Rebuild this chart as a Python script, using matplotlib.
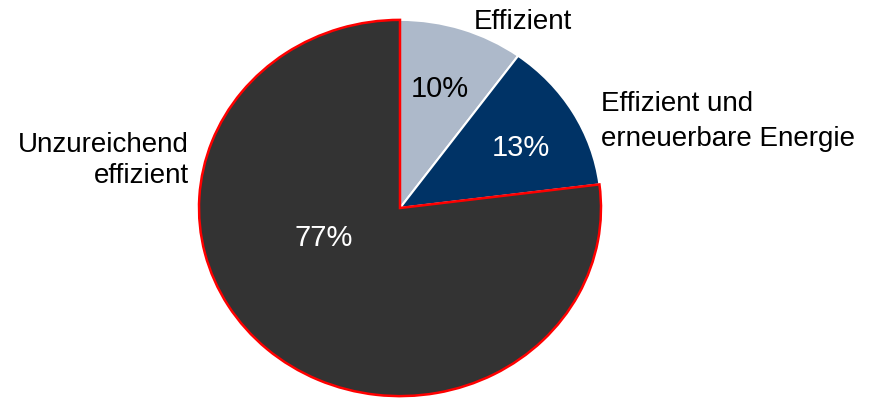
import matplotlib.pyplot as plt

plt.rcParams['font.family'] = ['Liberation Sans', 'DejaVu Sans']

# data, clockwise from 12 o'clock
labels = ['Effizient', 'Effizient und\nerneuerbare Energie', 'Unzureichend\neffizient']
shares = [10, 13, 77]
colors = ['#adb9ca', '#003366', '#333333']
pct_colors = ['black', 'white', 'white']

fig = plt.figure(figsize=(8.69, 4.0), dpi=100)
ax = fig.add_axes([197 / 869, 1 - 398 / 400, 406 / 869, 380 / 400])

wedges, _ = ax.pie(shares, colors=colors, startangle=90, counterclock=False,
                   radius=1.0, wedgeprops=dict(edgecolor='white', linewidth=1.5))
# big slice gets the red outline, drawn on top
wedges[2].set_edgecolor('#ff0000')
wedges[2].set_linewidth(1.8)
wedges[2].set_zorder(3)
# pie is slightly wider than tall in the reference -> auto aspect (after pie)
ax.set_aspect('auto')
ax.set_xlim(-1.01, 1.01)
ax.set_ylim(-1.01, 1.01)
ax.axis('off')

# percentage labels
pct_pos = [(0.2, 0.63), (0.6, 0.32), (-0.38, -0.16)]
for s, (x, y), c in zip(shares, pct_pos, pct_colors):
    ax.text(x, y, f'{s}%', color=c, fontsize=21, ha='center', va='center', zorder=5)

# category labels outside
ax.text(0.61, 0.99, labels[0], fontsize=20, ha='center', va='center')
ax.text(1.0, 0.46, labels[1], fontsize=20, ha='left', va='center', linespacing=1.45)
ax.text(-1.05, 0.25, labels[2], fontsize=20, ha='right', va='center', linespacing=1.25)

fig.savefig('out.png', dpi=100)
